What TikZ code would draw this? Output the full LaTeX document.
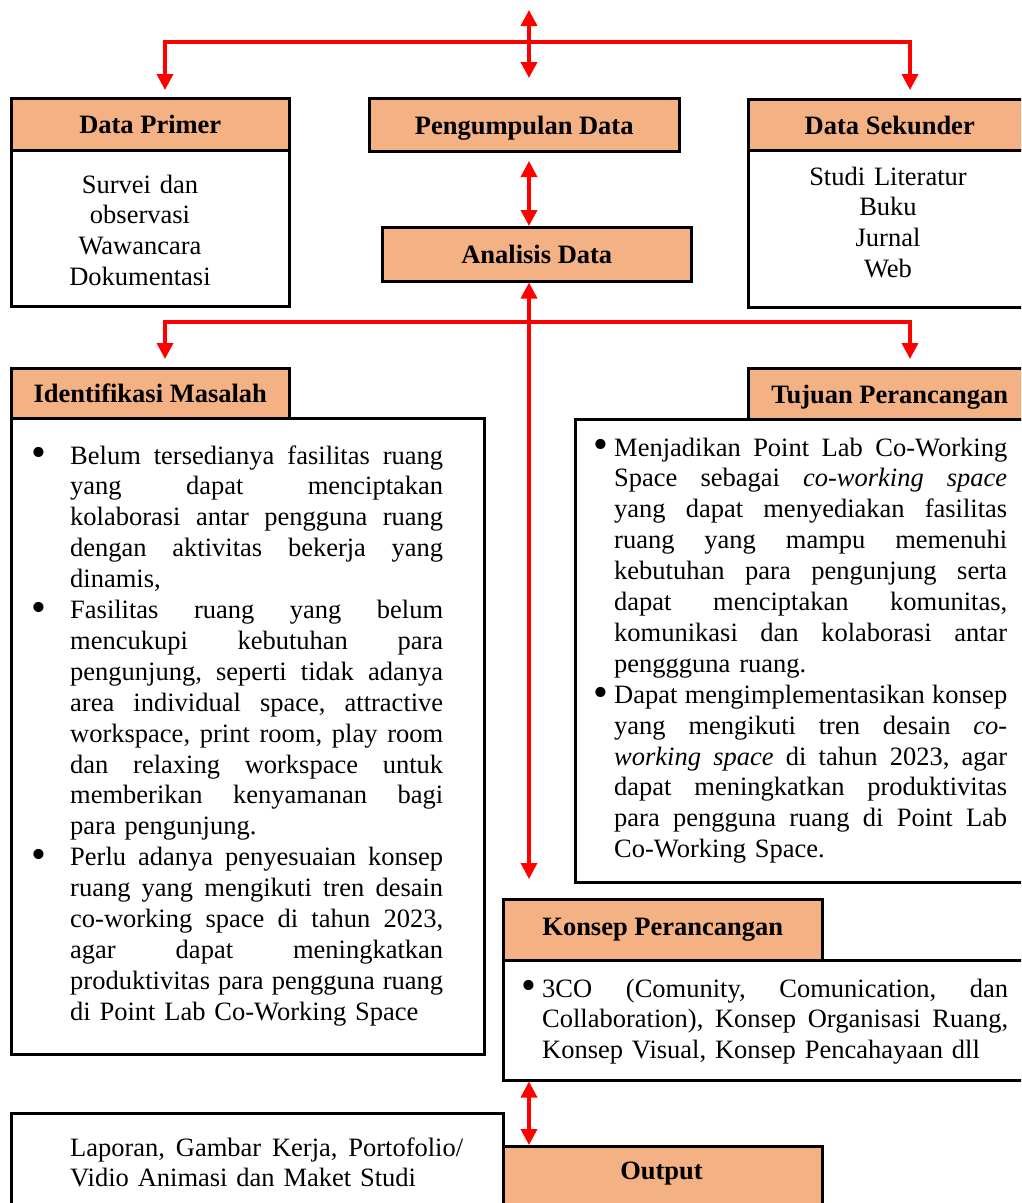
\documentclass[tikz,border=0pt]{standalone}
\usepackage{fontspec}
\setmainfont{Liberation Serif}
\usetikzlibrary{arrows.meta}
\definecolor{hdrfill}{HTML}{F4B183}
\definecolor{arrred}{HTML}{FF0000}
\newcommand{\bodyfont}{\fontsize{26.5pt}{30.9pt}\selectfont}
\newcommand{\jline}[2]{\hbox to #1{\frenchspacing\spaceskip=0pt plus 1fil\relax #2}}
\newcommand{\mybul}[1]{\makebox[#1][l]{\raisebox{-0.11em}{\scalebox{1.6}{\textbullet}}}}
\begin{document}
\begin{tikzpicture}[x=1pt,y=-1pt,
  hdr/.style={draw=black, line width=2.5pt, fill=hdrfill, inner sep=0pt, anchor=north west,
              font=\bodyfont\bfseries, text height=19pt, text depth=0pt},
  bodybox/.style={draw=black, line width=2.5pt, fill=white, inner sep=0pt, anchor=north west},
  txt/.style={inner sep=0pt, font=\bodyfont},
  conn/.style={draw=arrred, line width=3.5pt, -{Triangle[width=16pt,length=16pt]}},
  conn2/.style={draw=arrred, line width=3.5pt,
                {Triangle[width=16pt,length=16pt]}-{Triangle[width=16pt,length=16pt]}},
]
\useasboundingbox (0,0) rectangle (1021,1203);
\clip (0,0) rectangle (1021,1203);

% ---- Data Primer
\node[bodybox, minimum width=278pt, minimum height=156pt] (dpb) at (10,149) {};
\node[hdr, minimum width=278pt, minimum height=52pt] (dph) at (10,97) {Data Primer};
\node[txt, text width=260pt, align=center, anchor=base] (dpt) at (140,193)
  {Survei dan\\observasi\\Wawancara\\Dokumentasi};

% ---- Pengumpulan / Analisis
\node[hdr, minimum width=310pt, minimum height=53pt] (pd) at (368,97) {Pengumpulan Data};
\node[hdr, minimum width=309pt, minimum height=54pt] (ad) at (381,226) {Analisis Data};

% ---- Data Sekunder
\node[bodybox, minimum width=283pt, minimum height=157pt] (dsb) at (747,149) {};
\node[hdr, minimum width=283pt, minimum height=51pt] (dsh) at (747,98) {Data Sekunder};
\node[txt, text width=260pt, align=center, anchor=base] (dst) at (888,185)
  {Studi Literatur\\Buku\\Jurnal\\Web};

% ---- Identifikasi Masalah
\node[bodybox, minimum width=473pt, minimum height=636pt] (imb) at (10,417) {};
\node[hdr, minimum width=278pt, minimum height=50pt] (imh) at (10,367) {Identifikasi Masalah};
\node[txt, text width=430pt, align=left, anchor=base west] (imt) at (31,464) {%
\mybul{39pt}\jline{373pt}{Belum tersedianya fasilitas ruang}\\
\hspace*{39pt}\jline{373pt}{yang dapat menciptakan}\\
\hspace*{39pt}\jline{373pt}{kolaborasi antar pengguna ruang}\\
\hspace*{39pt}\jline{373pt}{dengan aktivitas bekerja yang}\\
\hspace*{39pt}dinamis,\\
\mybul{39pt}\jline{373pt}{Fasilitas ruang yang belum}\\
\hspace*{39pt}\jline{373pt}{mencukupi kebutuhan para}\\
\hspace*{39pt}\jline{373pt}{pengunjung, seperti tidak adanya}\\
\hspace*{39pt}\jline{373pt}{area individual space, attractive}\\
\hspace*{39pt}\jline{373pt}{workspace, print room, play room}\\
\hspace*{39pt}\jline{373pt}{dan relaxing workspace untuk}\\
\hspace*{39pt}\jline{373pt}{memberikan kenyamanan bagi}\\
\hspace*{39pt}para pengunjung.\\
\mybul{39pt}\jline{373pt}{Perlu adanya penyesuaian konsep}\\
\hspace*{39pt}\jline{373pt}{ruang yang mengikuti tren desain}\\
\hspace*{39pt}\jline{373pt}{co-working space di tahun 2023,}\\
\hspace*{39pt}\jline{373pt}{agar dapat meningkatkan}\\
\hspace*{39pt}\jline{373pt}{produktivitas para pengguna ruang}\\
\hspace*{39pt}di Point Lab Co-Working Space};

% ---- Tujuan Perancangan
\node[bodybox, minimum width=456pt, minimum height=463pt] (tpb) at (574,418) {};
\node[hdr, minimum width=283pt, minimum height=51pt] (tph) at (747,367) {Tujuan Perancangan};
\node[txt, text width=420pt, align=left, anchor=base west] (tpt) at (593,456) {%
\mybul{21pt}\jline{393pt}{Menjadikan Point Lab Co-Working}\\
\hspace*{21pt}\jline{393pt}{Space sebagai \textit{co-working} \textit{space}}\\
\hspace*{21pt}\jline{393pt}{yang dapat menyediakan fasilitas}\\
\hspace*{21pt}\jline{393pt}{ruang yang mampu memenuhi}\\
\hspace*{21pt}\jline{393pt}{kebutuhan para pengunjung serta}\\
\hspace*{21pt}\jline{393pt}{dapat menciptakan komunitas,}\\
\hspace*{21pt}\jline{393pt}{komunikasi dan kolaborasi antar}\\
\hspace*{21pt}penggguna ruang.\\
\mybul{21pt}\jline{393pt}{Dapat mengimplementasikan konsep}\\
\hspace*{21pt}\jline{393pt}{yang mengikuti tren desain \textit{co-}}\\
\hspace*{21pt}\jline{393pt}{\textit{working} \textit{space} di tahun 2023, agar}\\
\hspace*{21pt}\jline{393pt}{dapat meningkatkan produktivitas}\\
\hspace*{21pt}\jline{393pt}{para pengguna ruang di Point Lab}\\
\hspace*{21pt}Co-Working Space.};

% ---- Konsep Perancangan
\node[bodybox, minimum width=528pt, minimum height=120pt] (kpb) at (502,959) {};
\node[hdr, minimum width=319pt, minimum height=61pt, text depth=8pt] (kph) at (502,898) {Konsep Perancangan};
\node[txt, text width=490pt, align=left, anchor=base west] (kpt) at (521,997) {%
\mybul{21pt}\jline{466pt}{3CO (Comunity, Comunication, dan}\\
\hspace*{21pt}\jline{466pt}{Collaboration), Konsep Organisasi Ruang,}\\
\hspace*{21pt}Konsep Visual, Konsep Pencahayaan dll};

% ---- Laporan / Output
\node[bodybox, minimum width=492pt, minimum height=130pt] (lpb) at (10,1112) {};
\node[txt, text width=420pt, align=left, anchor=base west] (lpt) at (70,1156)
  {\jline{393pt}{Laporan, Gambar Kerja, Portofolio/}\\Vidio Animasi dan Maket Studi};
\node[hdr, minimum width=319pt, minimum height=90pt] (outb) at (502,1145) {};
\node[txt, font=\bodyfont\bfseries, anchor=base] (outt) at (661.5,1179) {Output};

% ---- connectors
\coordinate (topend) at (529,10);
\coordinate (hubA) at (529,42);
\coordinate (pdtip) at (529,78);
\coordinate (dptip) at (165,90);
\coordinate (dstip) at (910,90);
\draw[conn2] (topend) -- (pdtip);
\draw[conn] (hubA) -| (dptip);
\draw[conn] (hubA) -| (dstip);

\coordinate (pdad) at (529,161);
\draw[conn2] (pdad) -- (pdad |- ad.north);

\coordinate (kptip) at (529,879);
\draw[conn2] (ad.south -| kptip) -- (kptip);

\coordinate (hubB) at (529,322);
\coordinate (imtip) at (165,359);
\coordinate (tptip) at (910,359);
\draw[conn] (hubB) -| (imtip);
\draw[conn] (hubB) -| (tptip);

\draw[conn2] (kpb.south -| kptip) -- (kptip |- outb.north);
\end{tikzpicture}
\end{document}
